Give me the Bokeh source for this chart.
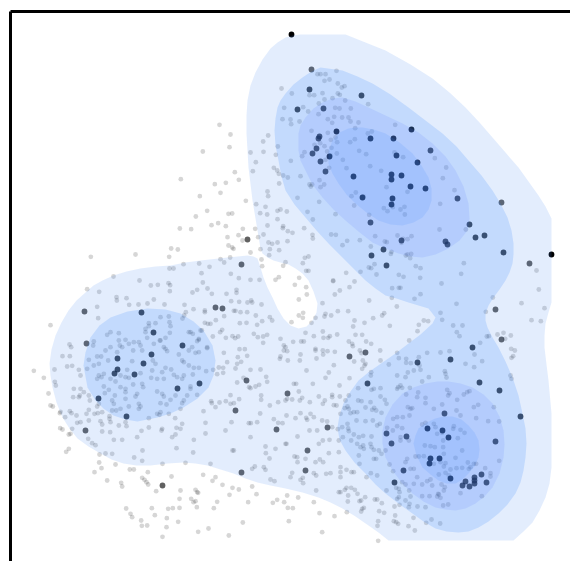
from bokeh.plotting import figure
from bokeh.models import Range1d, FixedTicker
from bokeh.embed import file_html
from bokeh.resources import INLINE

# Density bands, outlines (x, y in picture pixels, y downward)
band1_main = [(300,34),(345,34),(365,42),(385,50),(410,64),(432,78),(449,92),(465,107),(479,122),(492,137),(505,152),(518,167),(528,181),(538,195),(545,206),(551,218),(551,302),(548,312),(545,323),(544,335),(544,347),(546,364),(548,380),(551,413),(551,467),(549,483),(545,497),(539,510),(532,522),(523,531),(513,540),(388,540),(378,532),(368,525),(355,516),(342,508),(330,502),(318,497),(302,492),(285,488),(270,485),(257,482),(245,478),(233,473),(220,469),(207,465),(195,463),(183,462),(167,463),(150,465),(136,465),(123,463),(111,459),(100,453),(88,446),(77,438),(69,428),(62,417),(56,402),(52,387),(50,375),(49,363),(51,349),(55,335),(61,322),(68,310),(76,300),(85,292),(93,285),(102,280),(113,275),(126,271),(140,268),(155,266),(170,265),(185,262),(200,260),(227,257),(247,255),(253,256),(257,258),(260,267),(263,277),(267,287),(272,297),(277,308),(283,318),(290,325),(298,328),(306,326),(312,320),(316,312),(317,303),(313,291),(308,280),(302,273),(295,268),(288,264),(280,262),(273,260),(267,257),(262,253),(260,248),(257,230),(252,200),(248,167),(246,133),(246,115),(247,100),(250,85),(255,72),(262,59),(270,48),(277,42),(285,37),(292,35)]
band2_left = [(83,365),(85,352),(90,337),(99,325),(110,317),(127,311),(147,308),(165,309),(180,313),(193,321),(203,330),(212,345),(215,360),(213,375),(208,387),(197,398),(183,407),(170,413),(157,417),(137,421),(125,419),(113,415),(103,408),(95,400),(87,387)]
band2_main = [(320,67),(342,70),(357,76),(372,83),(390,94),(408,107),(425,120),(442,133),(456,146),(468,160),(481,175),(492,190),(500,203),(507,217),(511,230),(513,243),(513,254),(512,263),(509,272),(505,280),(499,289),(493,297),(488,305),(485,313),(485,320),(487,327),(492,337),(498,347),(505,361),(512,377),(518,395),(522,413),(525,428),(526,443),(525,457),(523,470),(520,482),(515,493),(507,504),(498,513),(488,521),(478,527),(468,531),(458,532),(446,531),(435,528),(423,521),(412,513),(398,503),(385,493),(375,484),(365,473),(354,462),(345,450),(339,439),(337,427),(339,415),(343,403),(350,391),(358,380),(369,371),(382,362),(395,353),(408,343),(420,334),(432,323),(435,317),(428,308),(418,305),(408,302),(396,298),(385,295),(375,288),(365,280),(357,272),(348,263),(338,253),(328,243),(316,230),(305,217),(294,204),(285,190),(281,176),(278,160),(275,145),(274,130),(275,118),(277,107),(280,100),(285,93),(293,84),(302,77),(311,71)]
band3_upper = [(298,133),(300,125),(305,117),(313,108),(322,102),(332,98),(342,97),(355,101),(368,107),(385,115),(402,123),(418,132),(432,143),(445,156),(455,170),(463,186),(468,203),(469,218),(467,230),(459,240),(448,248),(435,254),(422,257),(410,256),(398,253),(385,248),(372,242),(358,231),(345,220),(333,209),(322,197),(312,184),(305,170),(300,160),(298,150)]
band3_lower = [(382,443),(382,430),(385,417),(392,404),(402,393),(413,387),(425,383),(437,381),(448,381),(460,383),(472,387),(483,394),(492,403),(499,416),(503,430),(504,444),(503,457),(499,473),(492,487),(484,496),(475,503),(465,508),(455,510),(445,509),(435,507),(423,501),(412,493),(401,482),(392,470),(385,457)]
band4_upper = [(328,163),(328,151),(332,140),(339,132),(348,128),(355,127),(362,127),(373,129),(385,133),(399,142),(412,153),(421,165),(428,177),(431,188),(431,200),(428,209),(422,217),(413,222),(402,225),(390,224),(378,220),(366,212),(355,203),(346,194),(338,183),(332,173)]
band4_lower = [(413,443),(415,435),(418,428),(426,422),(435,418),(443,416),(452,416),(461,419),(468,425),(474,432),(478,440),(479,449),(478,457),(474,466),(468,473),(462,479),(455,483),(446,483),(438,480),(430,474),(422,467),(416,455)]

# Dark points by opacity class (picture pixels)
dark_edge = [(291,34),(551,254)]
dark_low = [(247,239),(241,264),(84,311),(215,307),(222,308),(86,343),(246,380),(235,410),(85,430),(276,429),(241,472),(162,485),(287,393),(349,356),(365,352),(307,450),(305,470),(327,427),(501,339),(495,309),(529,263),(501,202),(311,69)]
dark_mid = [(309,89),(361,95),(297,109),(323,108),(141,312),(153,332),(182,345),(151,354),(117,358),(143,363),(117,369),(114,373),(134,374),(199,383),(177,388),(98,398),(126,416),(319,136),(318,138),(316,148),(312,153),(320,161),(325,171),(430,150),(457,198),(370,222),(469,224),(475,237),(484,235),(401,240),(445,241),(447,244),(383,249),(371,255),(503,252),(386,265),(472,347),(450,359),(417,362),(479,382),(499,390),(367,383),(520,416),(495,441),(394,482),(403,470),(406,436),(386,433),(391,443),(444,413),(481,474),(486,482),(474,477),(474,480),(474,483),(462,485),(469,486),(465,481)]
dark_high = [(336,131),(370,138),(393,138),(411,129),(329,156),(396,155),(417,162),(353,176),(391,174),(391,179),(401,175),(410,186),(425,188),(362,197),(392,198),(391,204),(427,428),(442,430),(448,437),(430,458),(439,458),(429,463),(450,478)]

# Grey points, read quadrant by quadrant at 3x scale
grey_q1 = [(657,373),(690,402),(687,440),(607,453),(750,456),(788,423),(803,405),(789,454),(826,463),(832,438),(843,264),(851,322),(846,356),(766,485),(757,512),(820,502),(830,510),(835,520),(848,525),(836,549),(703,515),(715,538),(676,547),(643,551),(541,536),(660,577),(598,587),(801,573),(803,587),(736,601),(767,611),(795,619),(620,631),(684,640),(695,639),(779,638),(800,642),(831,631),(840,627),(586,648),(831,656),(633,674),(653,668),(676,677),(801,675),(538,684),(572,686),(727,685),(764,685),(848,677),(847,683),(681,710),(714,704),(789,702),(773,710),(726,720),(804,726),(815,730),(831,726),(684,735),(695,741),(699,745),(780,746),(808,746),(836,749),(512,744),(532,747),(750,756),(806,764),(271,769),(405,762),(506,769),(660,776),(689,771),(671,786),(783,777),(549,791),(596,789),(627,799),(785,797),(848,796),(507,804),(519,804),(603,818),(691,820),(339,828),(715,833),(835,830),(825,838),(777,838),(417,840),(750,838)]
grey_q2 = [(96,221),(105,221),(120,221),(153,211),(132,237),(117,241),(157,249),(169,261),(177,257),(72,284),(86,284),(111,278),(157,279),(163,283),(19,279),(141,293),(117,297),(100,309),(179,300),(248,311),(53,320),(68,333),(99,341),(149,322),(162,324),(196,324),(127,356),(146,349),(170,351),(189,351),(195,363),(219,366),(15,357),(17,371),(42,363),(140,367),(329,373),(209,383),(259,393),(247,399),(127,397),(78,391),(150,411),(136,418),(155,425),(194,425),(208,416),(87,433),(104,428),(117,437),(138,442),(125,453),(57,455),(50,467),(135,465),(154,459),(221,451),(242,461),(327,456),(353,470),(448,473),(172,478),(16,481),(120,478),(131,502),(183,503),(254,497),(287,511),(482,501),(45,527),(7,531),(102,539),(472,533),(72,552),(80,552),(76,558),(116,552),(105,560),(303,560),(366,574),(36,592),(211,576),(198,587),(234,588),(507,569),(101,604),(206,615),(464,610),(295,623),(306,632),(322,620),(345,627),(357,619),(358,642),(66,634),(4,633),(150,641),(251,643),(82,657),(56,683),(462,687),(541,687),(7,692),(21,697),(6,722),(81,703),(82,714),(137,702),(151,703),(269,707),(336,705),(353,715),(378,707),(366,716),(348,727),(185,721),(223,719),(171,734),(298,723),(304,725),(256,738),(318,754),(316,760),(361,765),(377,760),(366,762),(374,773),(58,772),(69,768),(391,797),(405,803),(535,788),(527,820),(753,810),(0,785),(52,788),(250,801),(257,803),(267,791),(62,811),(69,811),(225,814),(182,817),(273,822),(340,823),(354,829),(404,832),(41,832),(143,840)]
grey_q3 = [(260,26),(296,34),(348,50),(349,60),(378,53),(290,79),(293,113),(386,73),(414,72),(441,69),(460,57),(451,15),(472,13),(504,8),(509,14),(508,32),(492,72),(552,73),(579,86),(556,95),(551,105),(546,114),(613,90),(613,95),(576,36),(590,28),(621,24),(634,40),(607,6),(678,40),(708,28),(708,37),(692,62),(716,64),(741,66),(752,60),(755,66),(783,72),(671,107),(646,119),(700,91),(705,91),(720,95),(740,95),(766,105),(808,110),(815,120),(785,122),(770,133),(738,127),(718,128),(659,155),(665,148),(613,127),(622,130),(630,130),(604,150),(570,155),(577,160),(595,175),(590,182),(637,168),(676,172),(696,167),(704,173),(713,168),(760,160),(772,170),(788,168),(800,163),(840,175),(788,187),(620,203),(670,217),(717,206),(733,206),(712,230),(740,226),(722,244),(710,250),(705,264),(750,268),(780,267),(680,245),(655,261),(668,262),(668,277),(650,281),(797,289),(800,304),(729,292),(710,306),(746,320),(750,323),(765,318),(776,313),(690,344),(782,345),(782,358),(716,356),(700,368),(690,370),(676,362),(657,366),(632,362),(634,368),(808,375),(833,365),(855,360),(645,380),(609,392),(779,399),(820,416),(833,427),(846,428),(615,427),(693,425),(745,428),(751,428),(770,425),(675,450),(750,470),(615,459),(580,478),(528,503),(578,516),(426,510),(696,510),(700,510),(795,498),(796,518),(825,505),(807,534),(855,490),
(150,134),(207,192),(212,200),(186,227),(208,227),(215,256),(200,258),(235,268),(240,285),(162,267),(130,292),(163,304),(166,315),(144,339),(150,375),(157,378),(180,394),(178,398),(208,392),(213,398),(194,410),(228,405),(215,445),(179,443),(186,447),(205,462),(210,460),(235,350),(238,345),(220,325),(218,350),(240,325),(250,335),(265,345),(268,360),(290,378),(295,370),(258,400),(265,388),(282,400),(292,398),(305,395),(300,422),(305,432),(327,407),(327,415),(330,425),(265,420),(240,425),(230,427),(355,435),(375,425),(378,437),(329,455),(305,453),(275,488),(285,494),(263,475),(297,522),(315,519),(335,520),(205,505),(197,514),
(280,183),(278,195),(320,163),(330,155),(355,158),(355,180),(375,178),(385,190),(400,185),(415,185),(440,172),(435,155),(435,145),(445,128),(465,128),(445,137),(480,110),(505,108),(507,125),(510,137),(508,157),(495,172),(480,180),(460,190),(425,210),(420,195),(398,210),(365,200),(358,195),(350,215),(330,200),(315,210),(290,228),(265,238),(323,240),(302,228),(295,250),(280,255),(260,265),(295,285),(290,295),(310,280),(303,290),(330,295),(360,285),(375,290),(385,292),(345,303),(310,318),(360,320),(375,325),(375,335),(398,312),(425,310),(428,320),(410,340),(405,348),(375,355),(343,345),(325,328),(313,338),(335,360),(340,370),(385,378),(415,370),(420,378),(415,385),(335,390),(347,390),(360,385),(480,368),(498,372),(490,348),(485,340),(470,333),(510,358),(525,345),(550,360),(545,368),(540,385),(560,345),(570,325),(590,343),(570,318),(530,290),(545,295),(550,285),(520,283),(490,295),(470,295),(452,292),(485,275),(495,262),(512,267),(455,270),(465,250),(457,240),(395,242),(380,268),(420,278),(495,205),(490,200),(500,212),(535,222),(545,240),(550,245),(565,255),(580,262),(595,262),(617,272),(638,268),(577,282),(565,210),(585,217),(595,215),(575,200),(620,200),(595,178),(565,155),(600,150),(478,180),(480,395),(470,400),(445,413),(477,403),(524,413),(505,400),(528,442),(545,430),(540,445),
(410,470),(423,451),(445,441),(485,445),(483,450),(515,470),(525,462),(365,478),(340,478),(425,541),(401,531),(345,552),(296,546),(303,563),(282,575),(388,567),(400,567),(442,575),(486,550),(555,547),(630,550),(513,588),(608,583),(320,600),(425,592),(432,598),(438,605),(443,612),(362,607),(365,618),(467,632),(636,601),(645,590),(666,613),(696,622),(715,627),(755,618),(768,641),(687,643),(540,630),(585,628),(590,635),(537,655),(572,655),(585,662),(593,637),(579,665),(650,664),(640,683),(589,680),(377,684),(454,683),(503,685),(517,683),(537,682),(743,665),(390,700),(395,710),(463,704),(499,713),(422,720),(424,736),(440,735),(533,724),(727,726),(498,740),(593,754),(624,744),(685,765),(486,769),(817,667),(830,658),(851,665),(755,565),(763,558),(790,560),(795,568),(810,597),(822,602),(100,271),(855,200),(850,210),(840,228),(850,195),(838,235)]
grey_q4 = [(28,13),(62,20),(143,2),(207,3),(192,20),(468,9),(64,42),(148,42),(163,30),(40,57),(111,68),(251,60),(320,23),(340,22),(345,22),(319,52),(405,41),(387,55),(513,70),(622,51),(708,68),(760,27),(777,83),(738,119),(766,122),(601,94),(465,97),(470,118),(334,78),(157,92),(188,92),(137,105),(120,100),(117,108),(53,97),(40,105),(52,112),(18,125),(78,127),(90,112),(207,120),(237,127),(203,138),(263,113),(290,105),(296,98),(313,136),(415,120),(428,122),(400,133),(396,152),(503,135),(531,135),(514,155),(522,167),(604,168),(636,162),(654,157),(676,165),(659,175),(677,205),(688,210),(683,227),(678,232),(584,187),(610,167),(60,157),(85,167),(112,153),(114,172),(133,167),(128,172),(155,162),(210,163),(230,163),(190,183),(200,190),(202,197),(242,183),(257,190),(371,180),(23,184),(47,183),(55,183),(5,212),(7,240),(90,205),(90,210),(112,210),(126,212),(148,214),(113,222),(45,222),(43,240),(93,234),(223,210),(228,218),(284,210),(206,243),(232,240),(240,250),(237,255),(230,265),(145,254),(130,276),(120,292),(63,270),(192,293),(257,275),(256,285),(310,252),(285,240),(335,217),(340,233),(362,235),(362,247),(376,248),(400,230),(425,217),(465,216),(492,212),(402,255),(385,270),(367,276),(405,268),(478,272),(480,280),(483,291),(540,250),(566,260),(590,242),(567,222),(430,290),(410,303),(335,285),(360,290),(675,285),(678,295),(25,310),(32,310),(82,310),(162,315),(218,323),(265,325),(258,328),(285,323),(345,315),(338,320),(350,322),(335,325),(373,322),(40,333),(5,355),(50,352),(43,360),(100,348),(140,343),(140,350),(163,348),(190,345),(180,360),(73,365),(20,357),(118,360),(112,370),(145,374),(153,375),(178,383),(186,378),(190,385),(218,360),(228,362),(255,365),(240,381),(260,388),(266,382),(272,390),(285,348),(298,358),(303,370),(288,397),(283,430),(275,435),(262,420),(240,422),(205,395),(195,398),(215,395),(165,400),(213,420),(45,398),(75,400),(3,405),(30,413),(62,412),(65,418),(85,410),(110,420),(125,423),(140,440),(186,430),(188,444),(170,440),(157,446),(190,452),(205,462),(220,470),(233,466),(258,468),(172,470),(197,480),(215,490),(225,500),(235,505),(233,495),(255,490),(258,500),(265,508),(280,510),(220,525),(265,535),(222,550),(272,535),(288,520),(300,510),(312,552),(323,572),(243,590),(256,578),(275,585),(205,575),(165,560),(165,575),(183,568),(198,575),(165,590),(122,580),(135,578),(85,578),(92,585),(20,577),(15,590),(52,592),(45,598),(53,608),(36,545),(27,528),(35,530),(60,535),(90,545),(103,537),(113,545),(130,518),(100,490),(112,480),(132,478),(95,450),(72,450),(36,468),(3,490),(160,480),(160,515),
(323,415),(335,410),(352,410),(372,405),(367,380),(375,385),(380,383),(395,350),(420,352),(420,368),(362,342),(398,336),(485,328),(492,338),(488,345),(445,385),(470,372),(515,358),(535,342),(545,335),(552,332),(513,390),(525,405),(565,380),(578,373),(625,380),(572,413),(608,422),(641,423),(335,437),(350,443),(322,450),(305,442),(345,480),(345,470),(370,480),(410,432),(420,427),(445,430),(450,440),(455,460),(470,457),(505,437),(503,445),(525,448),(537,457),(517,473),(473,480),(448,500),(418,495),(435,497),(473,500),(530,510),(510,532),(400,528),(390,528),(415,527),(475,520),(465,545),(480,548),(365,535),(360,545),(375,565),(385,565),(355,570),(445,550),(475,558),(495,567),(513,563),(530,562),(547,546),(565,550),(572,550),(550,565),(555,560),(599,563),(615,578),(615,588),(641,541),(460,582),(480,577),(490,585),(435,597),(425,602),(410,612),(395,590),(385,610),(350,605),(360,612),(332,622),(340,625),(342,635),(303,630),(371,630),(340,650),(335,655),(360,660),(375,648),(372,670),(370,680),(342,673),(327,678),(396,678),(420,680),(410,647),(432,647),(458,640),(455,648),(465,652),(460,642),(473,675),(488,672),(525,638),(475,630),(468,612),(478,620),(589,647),(440,615),(384,712),(438,717),(422,727),(464,729),
(160,635),(165,635),(178,628),(183,622),(197,622),(208,628),(216,640),(188,645),(187,663),(222,662),(227,660),(239,650),(268,657),(275,657),(289,668),(281,692),(296,697),(230,685),(235,682),(227,693),(184,695),(147,707),(102,698),(85,665),(92,630),(38,651),(5,645),(7,682),(22,683),(10,722),(110,755),(278,722),(276,736),(329,705),(325,722),(332,725),(338,730),(369,737),(388,750),(278,781)]

p = figure(width=570, height=561, output_backend="svg", toolbar_location=None,
           x_range=Range1d(10, 570), y_range=Range1d(561, 11),
           x_axis_location="above", y_axis_location="left",
           min_border=0, min_border_left=10, min_border_top=11,
           background_fill_color="white", border_fill_color="white")
p.outline_line_color = None
p.grid.visible = False
for ax in (p.xaxis[0], p.yaxis[0]):
    ax.ticker = FixedTicker(ticks=[])
    ax.major_tick_line_color = None
    ax.minor_tick_line_color = None
    ax.major_label_text_color = None
    ax.major_tick_out = 0
    ax.major_label_standoff = 0
    ax.axis_line_color = "black"
    ax.axis_line_width = 3


def unpack(points, dx=0.0, dy=0.0, scale=1.0):
    return [x / scale + dx for x, y in points], [y / scale + dy for x, y in points]


quadrants = [(grey_q1, 0, 0), (grey_q2, 285, 0), (grey_q3, 0, 280), (grey_q4, 285, 280)]
gx, gy = [], []
for pts, ox, oy in quadrants:
    xs, ys = unpack(pts, ox, oy, 3.0)
    gx += xs
    gy += ys
p.scatter(gx, gy, size=4.8, color="black", alpha=0.16, line_color=None)

for pts, a in ((dark_low, 0.62), (dark_mid, 0.78), (dark_high, 0.96), (dark_edge, 1.0)):
    xs, ys = unpack(pts)
    p.scatter(xs, ys, size=5.8, color="black", alpha=a, line_color=None)

band_styles = [(band1_main, "#4285f4", 0.15), (band2_left, "#3b8bff", 0.19), (band2_main, "#3b8bff", 0.19),
               (band3_upper, "#6080ff", 0.15), (band3_lower, "#6080ff", 0.15),
               (band4_upper, "#438cff", 0.15), (band4_lower, "#438cff", 0.15)]
for outline, colour, alpha in band_styles:
    xs, ys = unpack(outline)
    p.patch(xs, ys, fill_color=colour, fill_alpha=alpha, line_color=None)

open("out.html", "w").write(file_html(p, INLINE))
